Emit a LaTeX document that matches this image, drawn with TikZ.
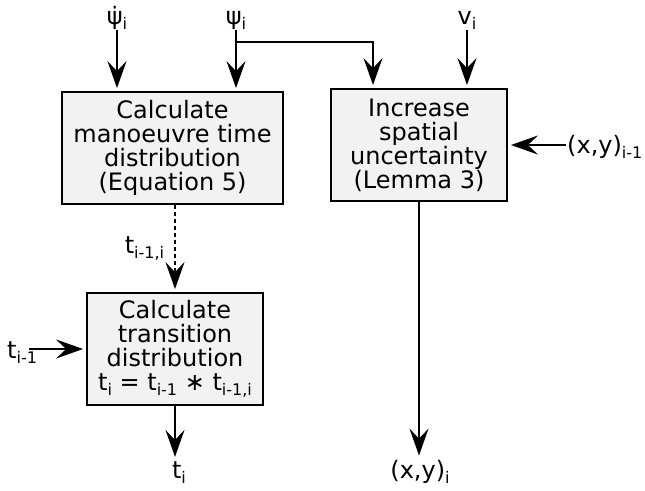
\documentclass[tikz,border=0pt]{standalone}
\usepackage{fontspec}
\setmainfont{DejaVu Sans}
\usepackage{tikz}
\usetikzlibrary{arrows.meta, positioning, calc}
\definecolor{boxgray}{RGB}{242, 242, 242}
\newcommand{\lo}[1]{\raisebox{-5pt}{\fontsize{16}{16}\selectfont #1}}
\tikzset{
    block/.style={draw, fill=boxgray, line width=1.8pt, minimum height=112pt, align=center, inner sep=2pt, font=\fontsize{24}{24}\selectfont},
    lbl/.style={font=\fontsize{24}{24}\selectfont, inner sep=1pt},
    flow/.style={line width=1.8pt, -{Stealth[length=27pt, width=19pt, inset=10pt]}, shorten >=3pt},
}

\begin{document}
\begin{tikzpicture}[x=1pt, y=-1pt]
    \useasboundingbox (0,0) rectangle (645,490);
    \node[block, minimum width=221pt] (timebox) at (172.5,148) {Calculate\\manoeuvre time\\distribution\\(Equation 5)};
    \node[block, minimum width=176pt] (spacebox) at (419,145) {Increase\\spatial\\uncertainty\\(Lemma 3)};
    \node[block, minimum width=176pt] (transbox) at (175,349) {Calculate\\transition\\distribution\\t\lo{i} = t\lo{i-1} ∗ t\lo{i-1,i}};

    \node[lbl, anchor=base] (dpsi) at (117,24) {ψ̇\lo{i}};
    \node[lbl, anchor=base] (psi) at (236,24) {ψ\lo{i}};
    \node[lbl, anchor=base] (vel) at (467,24) {v\lo{i}};
    \node[lbl, anchor=base west] (xyprev) at (566,153) {(x,y)\lo{i-1}};
    \node[lbl, anchor=base west] (tprev) at (6,358) {t\lo{i-1}};
    \node[lbl, anchor=base] (tnext) at (179,478) {t\lo{i}};
    \node[lbl, anchor=base] (xynext) at (420,478) {(x,y)\lo{i}};
    \path (psi.south) ++(0,12) coordinate (split);

    \draw[flow] (dpsi.south) -- (dpsi.south |- timebox.north);
    \draw[flow] (psi.south) -- (psi.south |- timebox.north);
    \draw[flow] (split) -| ([xshift=-46pt]spacebox.north);
    \draw[flow] (vel.south) -- (vel.south |- spacebox.north);
    \draw[flow] (xyprev.west |- spacebox.east) -- (spacebox.east);
    \draw[flow, dash pattern=on 4pt off 3pt] (timebox.south -| transbox.north) -- node[lbl, midway, left=9pt] (tstep) {t\lo{i-1,i}} (transbox.north);
    \draw[flow] ([xshift=-9pt]tprev.east |- transbox.west) -- (transbox.west);
    \draw[flow] (transbox.south) -- (transbox.south |- tnext.north);
    \draw[flow] (spacebox.south) -- (spacebox.south |- xynext.north);
\end{tikzpicture}
\end{document}
